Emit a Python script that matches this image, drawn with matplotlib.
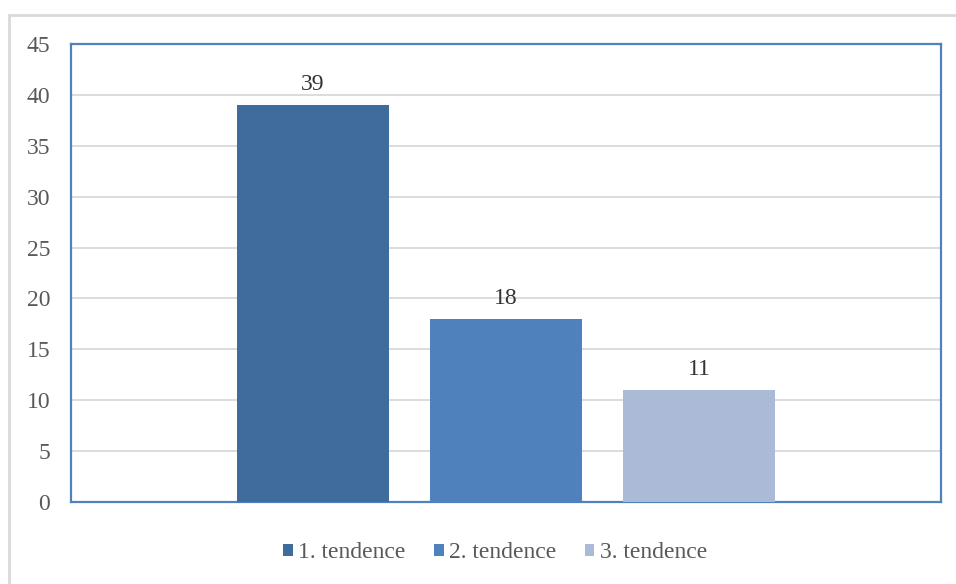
import matplotlib.pyplot as plt
from matplotlib.patches import Rectangle

# Počty odpovědí podle tendence
series = ['1. tendence', '2. tendence', '3. tendence']
values = [39, 18, 11]
colors = ['#3F6B9D', '#4F81BD', '#AABAD7']
y_ticks = [0, 5, 10, 15, 20, 25, 30, 35, 40, 45]

text_color = '#595959'
plt.rcParams['font.family'] = ['Liberation Serif', 'DejaVu Serif']

fig = plt.figure(figsize=(9.56, 5.84), dpi=100)
W, H = 956, 584

# světle šedý rámeček kolem celého grafu
fig.patches.append(Rectangle((9 / W, -0.1), 1.0, (H - 15) / H + 0.1, transform=fig.transFigure,
                             fill=False, edgecolor='#D9D9D9', linewidth=2))

ax = fig.add_axes([71 / W, (H - 502) / H, 870 / W, 458 / H])

offsets = [-1, 0, 1]
for off, val, col, name in zip(offsets, values, colors, series):
    ax.bar(off, val, width=0.788, color=col, label=name, zorder=3)
    ax.text(off, val + 1.0, str(val), ha='center', va='bottom', fontsize=17, color='#333333')

ax.set_xlim(-2.254, 2.254)
ax.set_ylim(0, 45)
ax.set_yticks(y_ticks)
ax.set_xticks([])
ax.tick_params(axis='y', length=0, labelsize=17, labelcolor=text_color, pad=15)
ax.yaxis.grid(True, color='#D9D9D9', linewidth=1.3, zorder=0)
for s in ax.spines.values():
    s.set_color('#4F81BD')
    s.set_linewidth(1.6)

ax.legend(loc='center', bbox_to_anchor=(495 / W, (H - 553) / H), bbox_transform=fig.transFigure,
          ncol=3, frameon=False, fontsize=17, labelcolor=text_color,
          handlelength=0.42, handleheight=0.42, handletextpad=0.22, columnspacing=1.2)

fig.savefig('out.png', dpi=100)
